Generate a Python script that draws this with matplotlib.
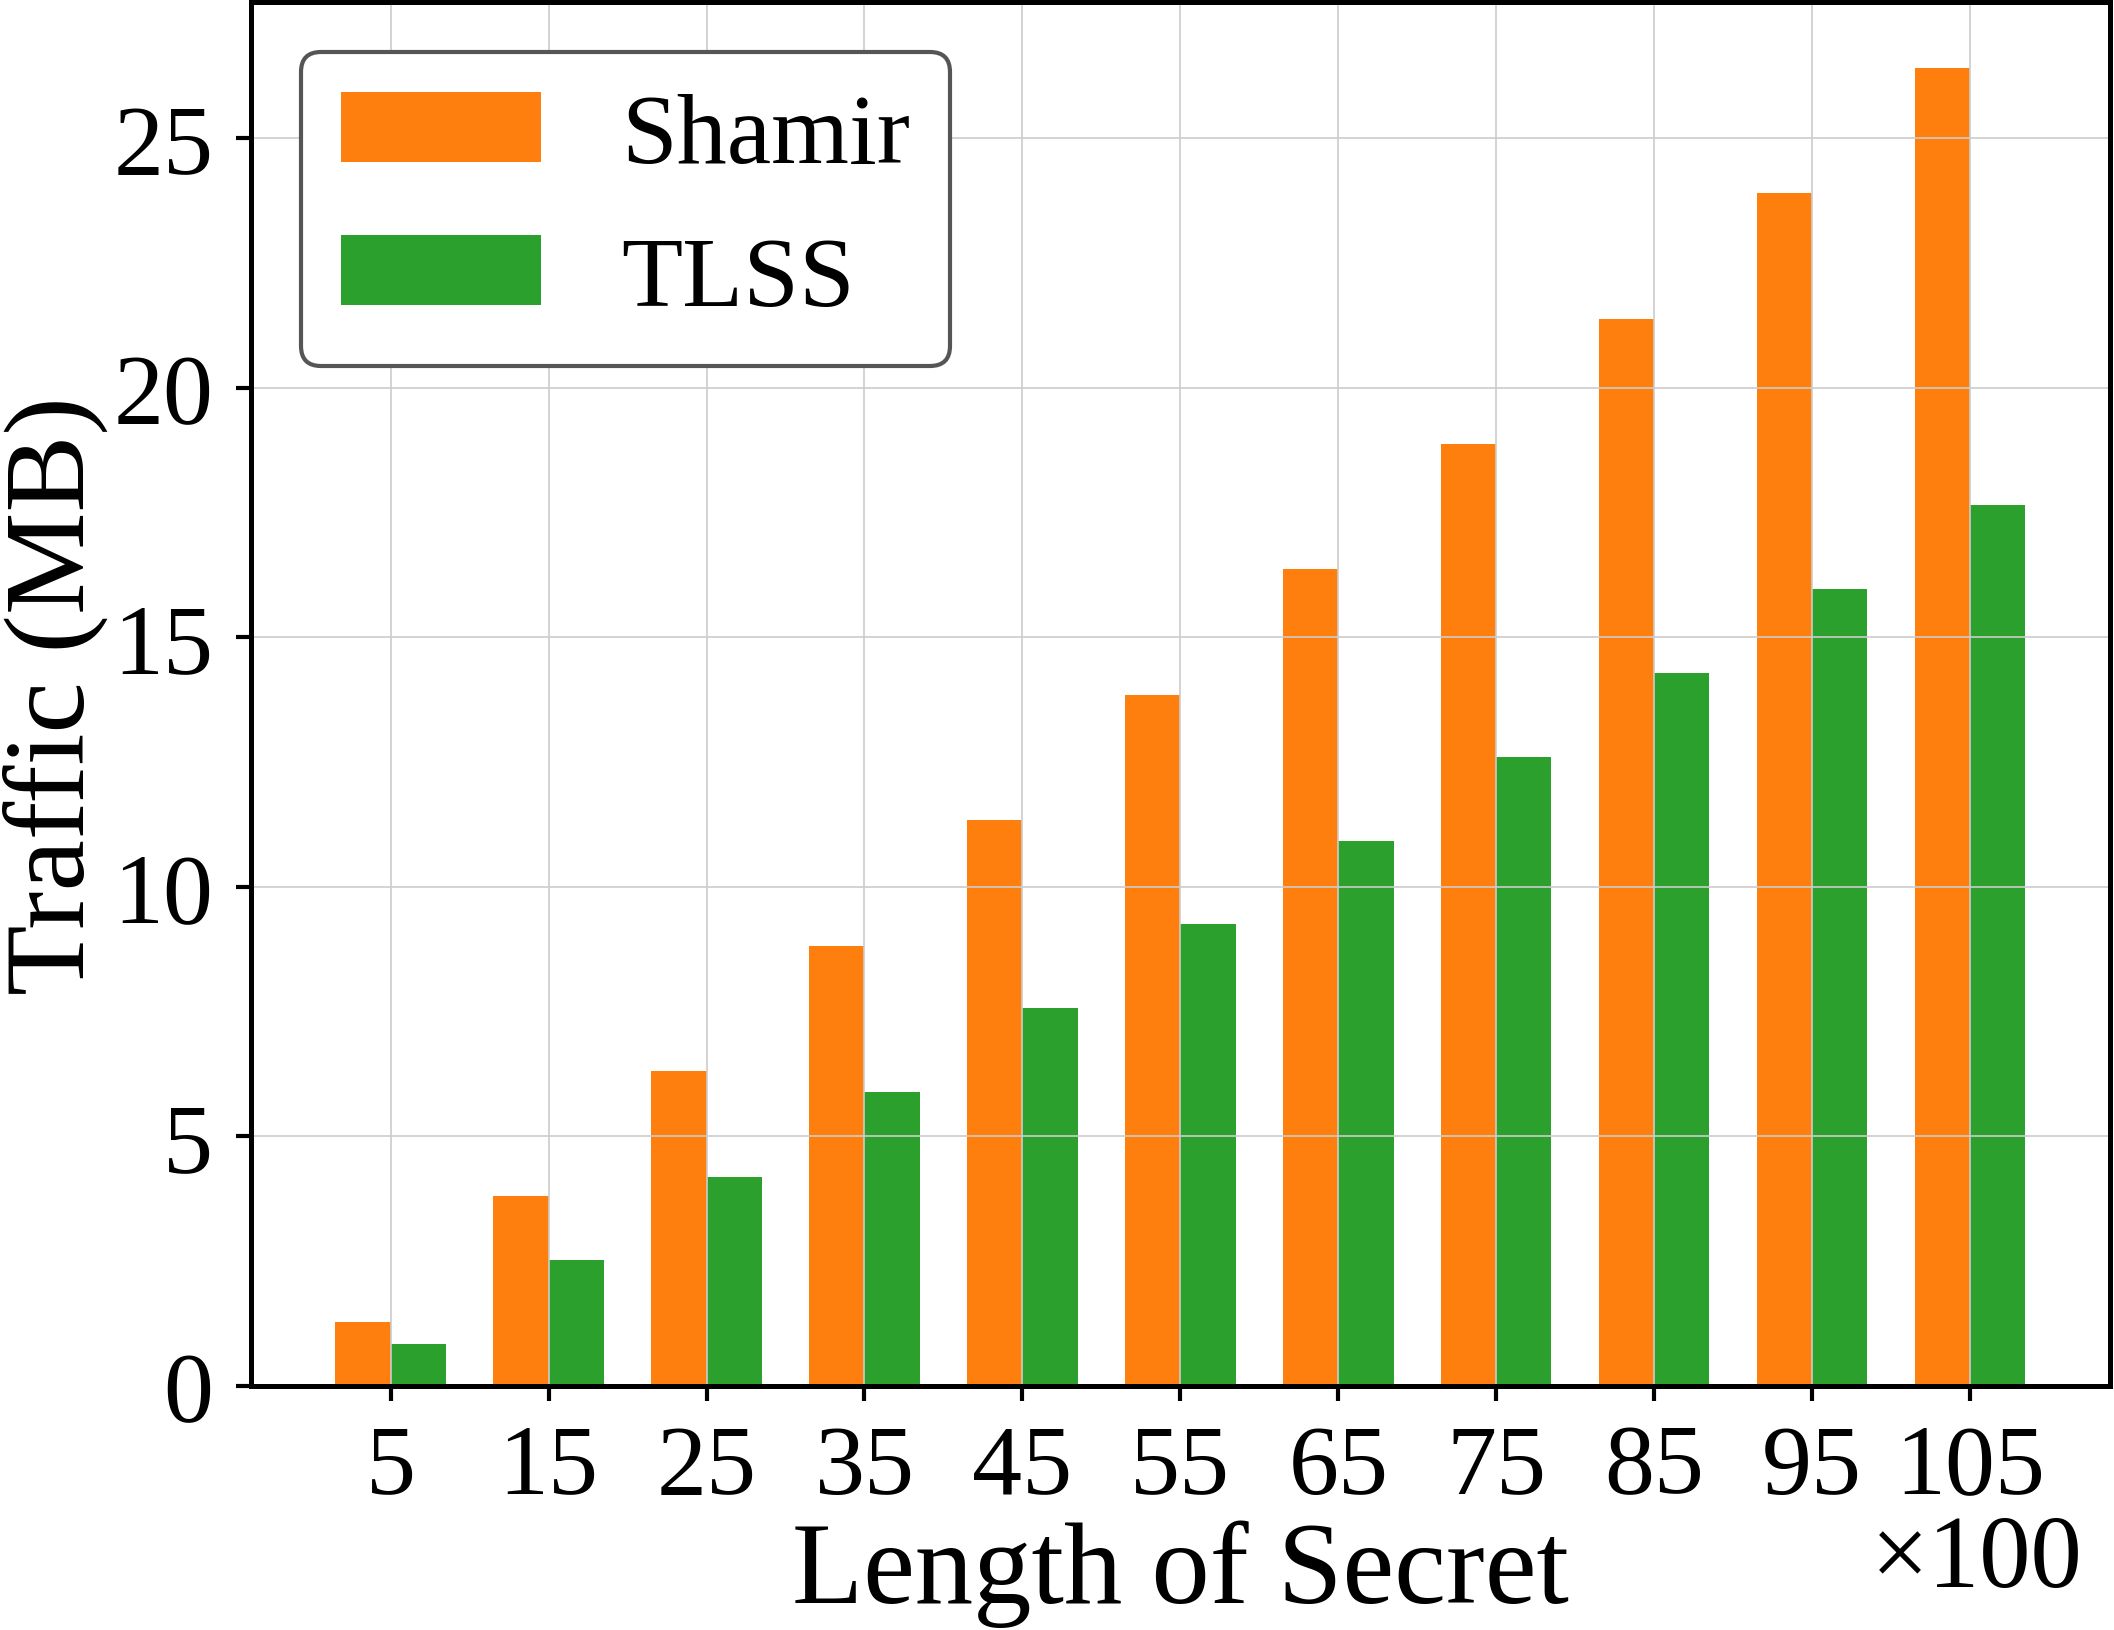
import matplotlib
matplotlib.use("Agg")
import matplotlib.pyplot as plt
import numpy as np

categories = ["5", "15", "25", "35", "45", "55", "65", "75", "85", "95", "105"]
shamir = [1.28, 3.80, 6.31, 8.82, 11.33, 13.85, 16.36, 18.87, 21.38, 23.89, 26.40]
tlss = [0.84, 2.52, 4.19, 5.88, 7.57, 9.25, 10.92, 12.60, 14.29, 15.97, 17.65]
series_labels = ["Shamir", "TLSS"]

plt.rcParams['font.family'] = ['Liberation Serif', 'DejaVu Serif']
plt.rcParams['mathtext.fontset'] = 'stix'

fig = plt.figure(figsize=(2114/200, 1631/200), dpi=200)
ax = fig.add_axes([0.1187, 0.1496, 0.998-0.1187, 0.998-0.1496])

x = np.arange(len(categories))
w = 0.35
ax.bar(x - w/2, shamir, w, color='#ff7f0e', label=series_labels[0])
ax.bar(x + w/2, tlss, w, color='#2ca02c', label=series_labels[1])

ax.set_xticks(x)
ax.set_xticklabels(categories)
ax.set_yticks([0, 5, 10, 15, 20, 25])
ax.tick_params(axis='both', labelsize=36, width=1.5, length=5.5, pad=8, color='black')
ax.grid(True, color='#cccccc', linewidth=0.6)

for s in ax.spines.values():
    s.set_linewidth(1.8)
    s.set_color('black')

ax.set_xlabel("Length of Secret", fontsize=42, labelpad=2)
ax.set_ylabel("Traffic (MB)", fontsize=41.5, labelpad=2)

leg = ax.legend(loc='upper left', fontsize=36, handlelength=2.0, handleheight=0.7,
                handletextpad=0.8, labelspacing=0.52, fancybox=True, framealpha=1.0,
                edgecolor='#555555')
leg.get_frame().set_linewidth(1.5)

fig.text(0.985, 0.027, "×100", fontsize=37, ha='right', va='baseline')

fig.savefig("out.png", dpi=200)
